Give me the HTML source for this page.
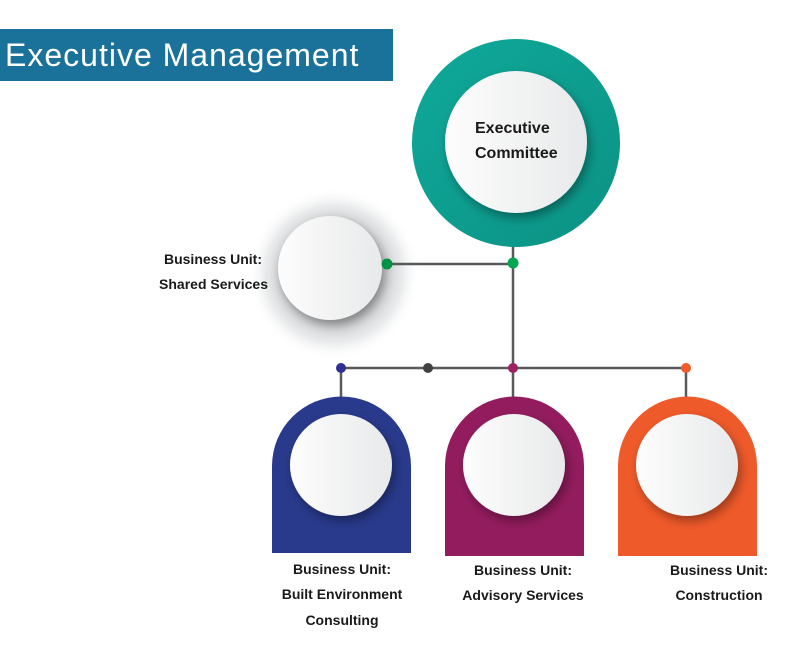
<!DOCTYPE html>
<html><head><meta charset="utf-8"><style>
body{margin:0;background:#fff;width:790px;height:647px;overflow:hidden}
svg{display:block}
text{font-family:"Liberation Sans",sans-serif;font-weight:bold;fill:#1a1a1a}
</style></head><body>
<svg width="790" height="647" viewBox="0 0 790 647" xmlns="http://www.w3.org/2000/svg">
<defs>
<radialGradient id="halo" cx="0.5" cy="0.5" r="0.5">
<stop offset="0.5" stop-color="#c4c5c7"/><stop offset="0.8" stop-color="#eaebec"/><stop offset="1" stop-color="#fff" stop-opacity="0"/>
</radialGradient>
<linearGradient id="wh" x1="0" y1="0" x2="1" y2="0">
<stop offset="0" stop-color="#fdfdfd"/><stop offset="1" stop-color="#e8e9ea"/>
</linearGradient>
<linearGradient id="teal" x1="0" y1="0" x2="1" y2="1">
<stop offset="0" stop-color="#0fa99a"/><stop offset="1" stop-color="#0b9284"/>
</linearGradient>
<filter id="sh" x="-30%" y="-30%" width="160%" height="160%"><feDropShadow dx="3" dy="5" stdDeviation="5" flood-color="#000" flood-opacity="0.35"/></filter>
</defs>
<rect x="0" y="29" width="393" height="52" fill="#1a7199"/>
<text x="5" y="66" font-size="32" letter-spacing="1" style="font-weight:normal;fill:#fff">Executive Management</text>

<!-- shared services halo -->
<circle cx="334" cy="274" r="86" fill="url(#halo)"/>

<!-- connectors -->
<g stroke="#58595b" stroke-width="2.5" fill="none">
<line x1="387" y1="264" x2="513" y2="264"/>
<line x1="513" y1="245" x2="513" y2="368"/>
<line x1="341" y1="368" x2="686" y2="368"/>
<line x1="341" y1="368" x2="341" y2="398"/>
<line x1="513" y1="368" x2="513" y2="398"/>
<line x1="686" y1="368" x2="686" y2="398"/>
</g>

<!-- exec committee -->
<circle cx="516" cy="143" r="104" fill="url(#teal)"/>
<circle cx="516" cy="142" r="71" fill="url(#wh)" filter="url(#sh)"/>
<text x="475" y="133" font-size="16">Executive</text>
<text x="475" y="158" font-size="16">Committee</text>

<!-- shared services -->
<circle cx="330" cy="268" r="52" fill="url(#wh)" filter="url(#sh)"/>
<text x="262" y="264" font-size="14" text-anchor="end">Business Unit:</text>
<text x="268" y="289" font-size="14" text-anchor="end">Shared Services</text>

<!-- cards -->
<path d="M272 553 V466 A69.5 69.5 0 0 1 411 466 V553 Z" fill="#293a8c"/>
<circle cx="341" cy="465" r="51" fill="url(#wh)" filter="url(#sh)"/>
<path d="M445 556 V466 A69.5 69.5 0 0 1 584 466 V556 Z" fill="#931c5e"/>
<circle cx="514" cy="465" r="51" fill="url(#wh)" filter="url(#sh)"/>
<path d="M618 556 V466 A69.5 69.5 0 0 1 757 466 V556 Z" fill="#ef5a2a"/>
<circle cx="687" cy="465" r="51" fill="url(#wh)" filter="url(#sh)"/>

<!-- dots -->
<circle cx="387" cy="264" r="5.5" fill="#009245"/>
<circle cx="513" cy="263" r="5.5" fill="#00a651"/>
<circle cx="341" cy="368" r="5" fill="#2e3192"/>
<circle cx="428" cy="368" r="5" fill="#414042"/>
<circle cx="513" cy="368" r="5" fill="#9e1f63"/>
<circle cx="686" cy="368" r="5" fill="#f15a29"/>

<g font-size="14" text-anchor="middle">
<text x="342" y="574">Business Unit:</text>
<text x="342" y="599">Built Environment</text>
<text x="342" y="625">Consulting</text>
<text x="523" y="575">Business Unit:</text>
<text x="523" y="600">Advisory Services</text>
<text x="719" y="575">Business Unit:</text>
<text x="719" y="600">Construction</text>
</g>
</svg>
</body></html>
